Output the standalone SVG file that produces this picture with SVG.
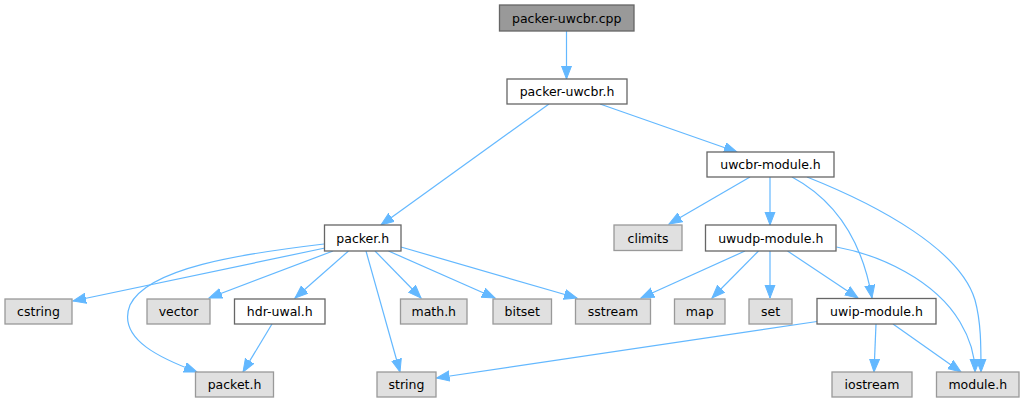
<svg xmlns="http://www.w3.org/2000/svg" width="1024" height="403" viewBox="0 0 1024 403">
<style>
.n rect{stroke-width:1.3}
.doc rect{fill:#ffffff;stroke:#666666}
.sys rect{fill:#e0e0e0;stroke:#999999}
.cur rect{fill:#999999;stroke:#666666}
text{font-family:"DejaVu Sans",sans-serif;font-size:12.5px;fill:#000000;text-anchor:middle}
.e path{fill:none;stroke:#63b8ff;stroke-width:1.2;marker-end:url(#arr)}
</style>
<defs>
<marker id="arr" markerUnits="userSpaceOnUse" markerWidth="14" markerHeight="12" refX="13" refY="5.5" orient="auto">
<path d="M0,0.5 L13,5.5 L0,10.5 z" fill="#63b8ff" stroke="#63b8ff" stroke-width="1"/>
</marker>
</defs>
<g class="e" id="edges">
<path d="M566.5,31 L566.5,79"/>
<path d="M549,104 L381,225"/>
<path d="M600,104 L737,152"/>
<path d="M750,177 L669,224"/>
<path d="M770,177 L770,225"/>
<path d="M792,177 C835,200 862,240 872,298"/>
<path d="M807,177 C880,206 960,250 975,300 C981,322 981,345 981,372"/>
<path d="M836.5,247 C880,255 935,280 960,322 C972,342 975,360 975,372"/>
<path d="M745,251 L641,298"/>
<path d="M758.5,251 L712,298"/>
<path d="M770,251 L770,298"/>
<path d="M787.5,251 L858,298"/>
<path d="M325,248 L73,301"/>
<path d="M324,244 C240,254 148,268 130,305 C116,340 165,360 197,372"/>
<path d="M333,251 L209,298"/>
<path d="M348.5,251 L295,298"/>
<path d="M366,251 L400,372"/>
<path d="M375,251 L421,298"/>
<path d="M388.5,251 L495,298"/>
<path d="M401,247 L577,298"/>
<path d="M272,324 L243,372"/>
<path d="M817,321.5 L436.5,378"/>
<path d="M876,324 L874,372"/>
<path d="M893,324 L961,372"/>
</g>
<g class="n cur" id="packer-uwcbr-cpp"><rect x="499.5" y="5" width="134.5" height="26"/><text x="566.75" y="22.5">packer-uwcbr.cpp</text></g>
<g class="n doc" id="packer-uwcbr-h"><rect x="507" y="79" width="120" height="25"/><text x="567" y="96">packer-uwcbr.h</text></g>
<g class="n doc" id="uwcbr-module-h"><rect x="707" y="152" width="127" height="25"/><text x="770.5" y="169">uwcbr-module.h</text></g>
<g class="n doc" id="packer-h"><rect x="324.5" y="225" width="76.5" height="26"/><text x="362.75" y="242.5">packer.h</text></g>
<g class="n sys" id="climits"><rect x="614" y="225" width="68" height="25.5"/><text x="648" y="242.5">climits</text></g>
<g class="n doc" id="uwudp-module-h"><rect x="705.5" y="225" width="130.5" height="26"/><text x="770.75" y="242.5">uwudp-module.h</text></g>
<g class="n sys" id="cstring"><rect x="5" y="299" width="67" height="25"/><text x="38.5" y="316">cstring</text></g>
<g class="n sys" id="vector"><rect x="147" y="299" width="63" height="25"/><text x="178.5" y="316">vector</text></g>
<g class="n doc" id="hdr-uwal-h"><rect x="234.5" y="299" width="90.5" height="25"/><text x="279.75" y="316">hdr-uwal.h</text></g>
<g class="n sys" id="math-h"><rect x="400.5" y="299" width="66.5" height="25"/><text x="433.75" y="316">math.h</text></g>
<g class="n sys" id="bitset"><rect x="493" y="299" width="58.5" height="25"/><text x="522.25" y="316">bitset</text></g>
<g class="n sys" id="sstream"><rect x="575.5" y="299" width="75" height="25"/><text x="613" y="316">sstream</text></g>
<g class="n sys" id="map"><rect x="674.5" y="299" width="50.5" height="25"/><text x="699.75" y="316">map</text></g>
<g class="n sys" id="set"><rect x="749" y="299" width="43" height="25"/><text x="770.5" y="316">set</text></g>
<g class="n doc" id="uwip-module-h"><rect x="817" y="298.5" width="119" height="25.5"/><text x="876.5" y="316">uwip-module.h</text></g>
<g class="n sys" id="packet-h"><rect x="195.5" y="372" width="78" height="25"/><text x="234.5" y="389">packet.h</text></g>
<g class="n sys" id="string"><rect x="377" y="372" width="59" height="25"/><text x="406.5" y="389">string</text></g>
<g class="n sys" id="iostream"><rect x="832" y="372" width="80" height="25"/><text x="872" y="389">iostream</text></g>
<g class="n sys" id="module-h"><rect x="936.5" y="372" width="82.5" height="25"/><text x="977.75" y="389">module.h</text></g>
</svg>
